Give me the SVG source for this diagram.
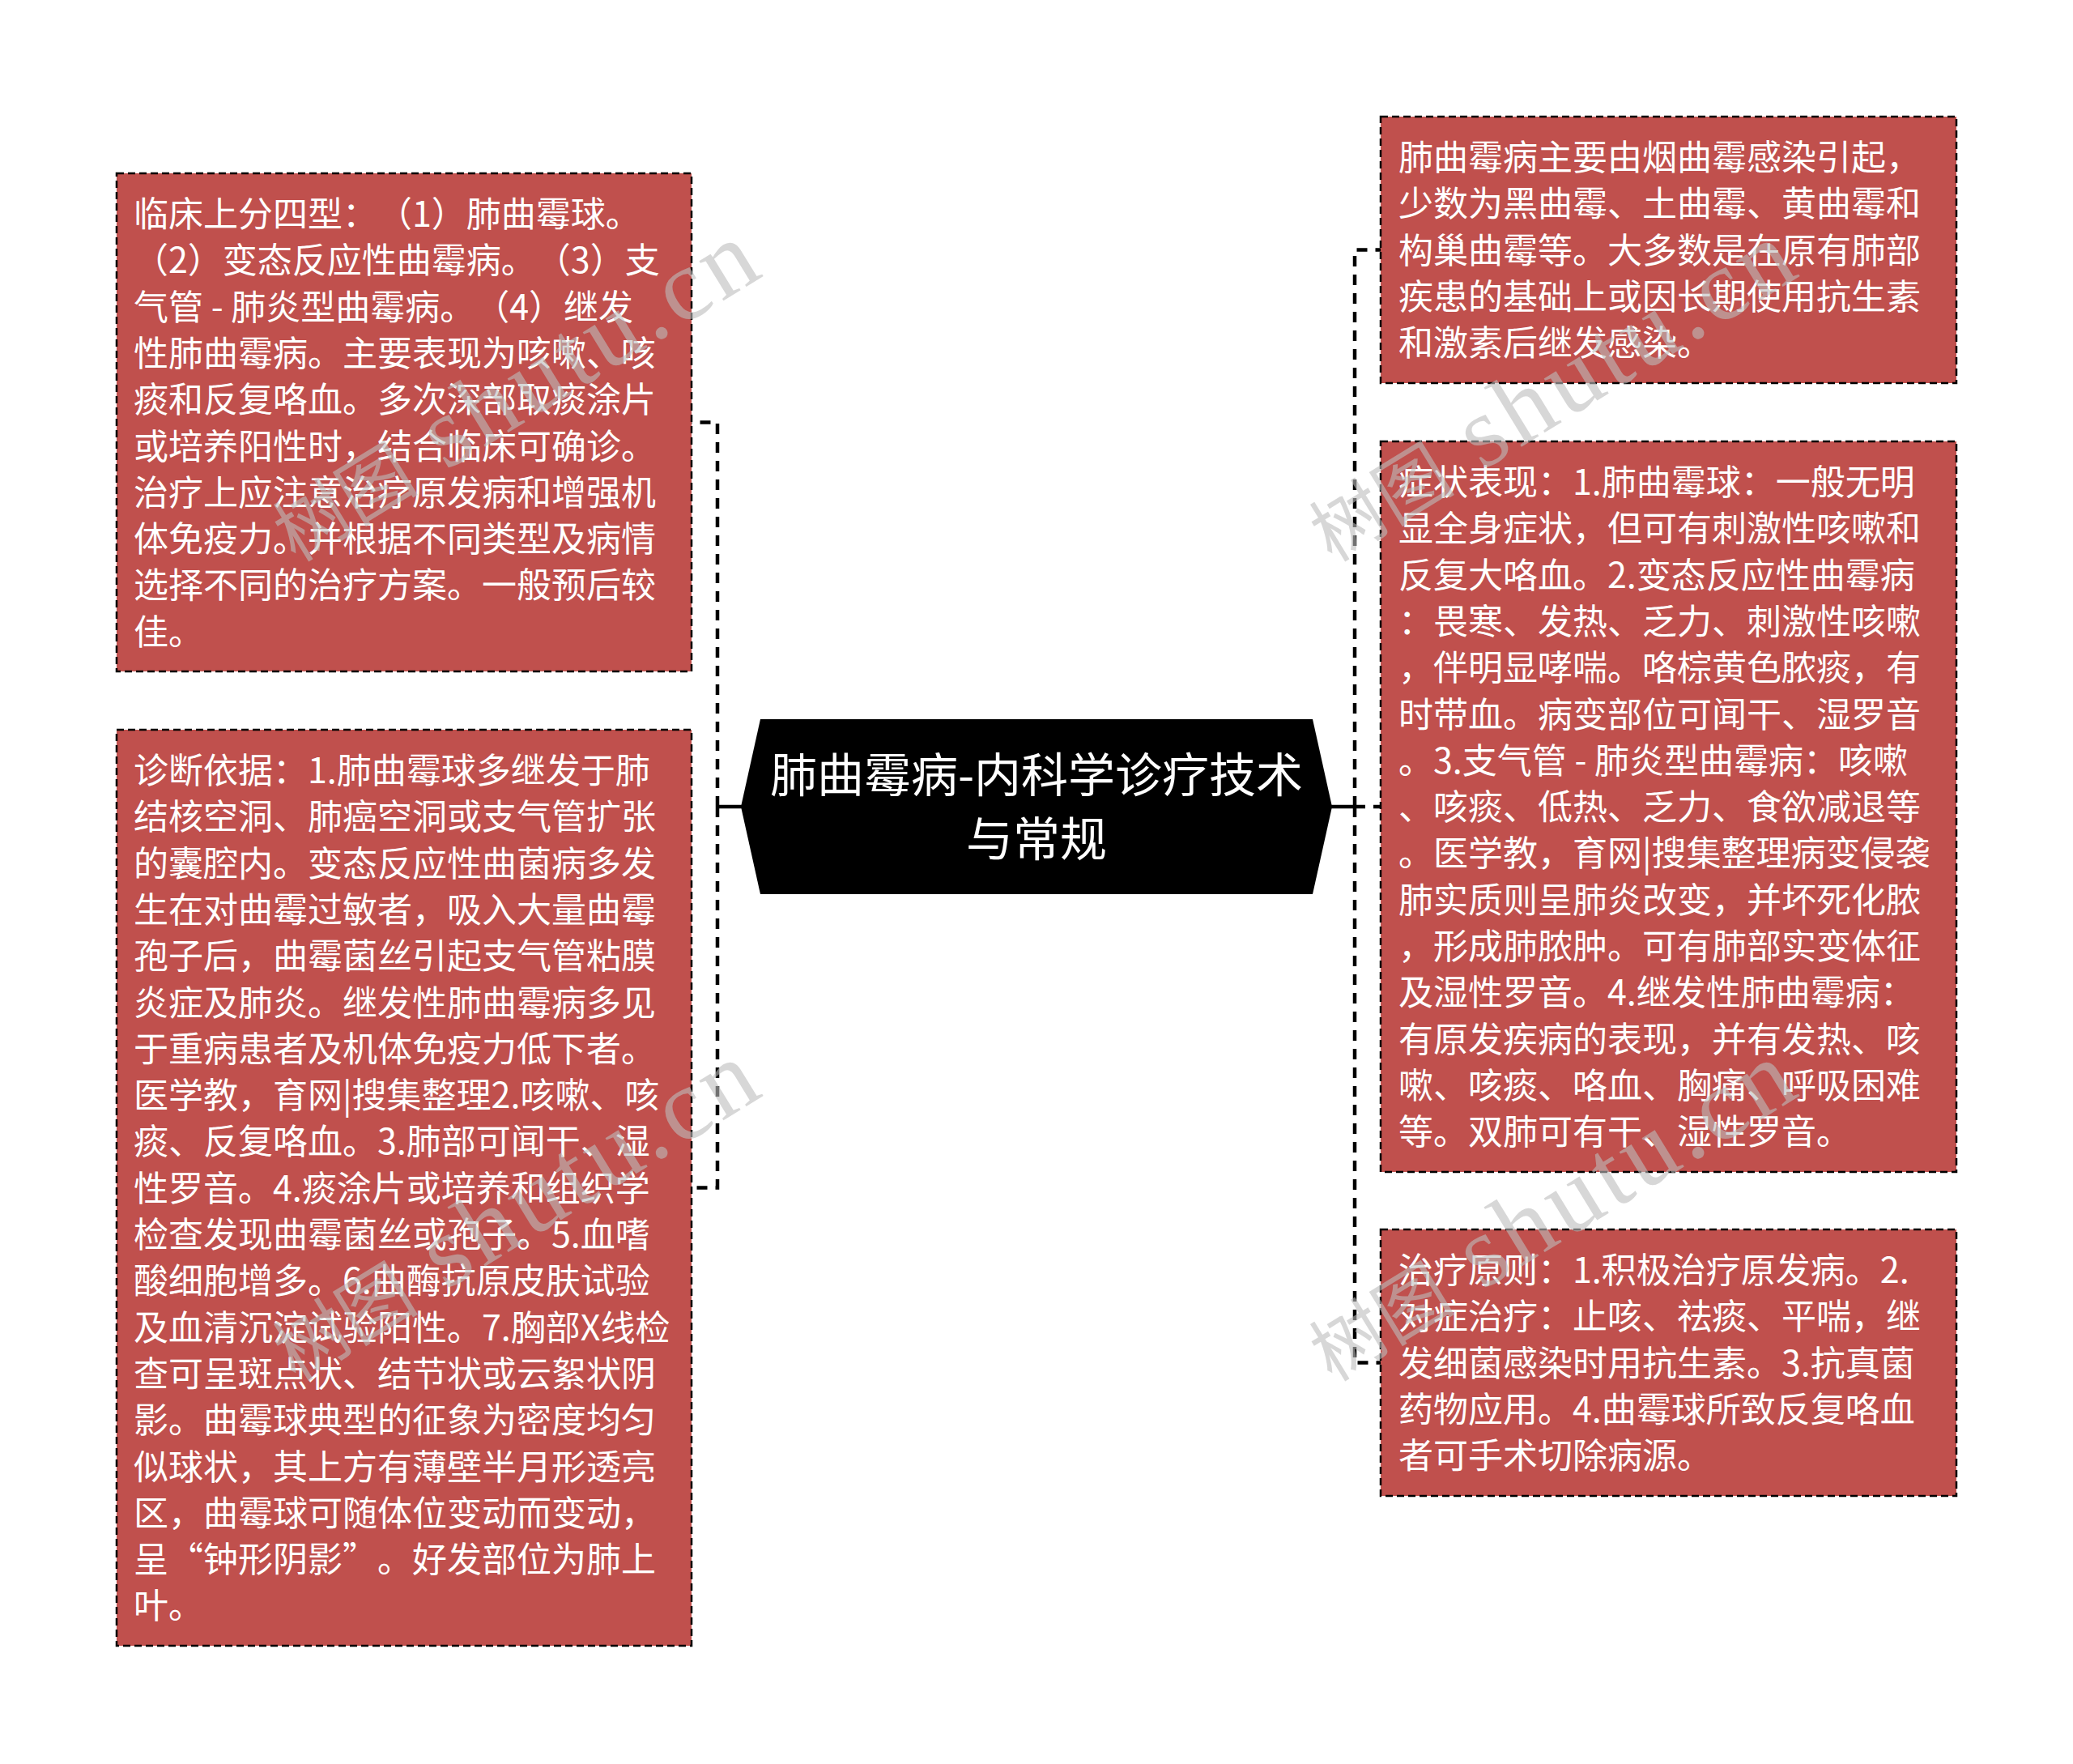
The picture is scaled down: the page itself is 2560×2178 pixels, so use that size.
<svg xmlns="http://www.w3.org/2000/svg" width="2560" height="2178" viewBox="0 0 2560 2178">
<style>
.box{fill:#C0504D;stroke:#000;stroke-width:2.5;stroke-dasharray:9 5}
.txt{font-family:"Noto Sans CJK SC","Noto Sans",sans-serif;font-size:43px;fill:#fff;text-spacing-trim:space-all}
.root-txt{font-family:"Noto Sans CJK SC","Noto Sans",sans-serif;font-size:58px;fill:#fff;text-anchor:middle}
.stub{fill:none;stroke:#000;stroke-width:4.5}
.dash{fill:none;stroke:#000;stroke-width:4.5;stroke-dasharray:13 10}
.wm{font-family:"Liberation Serif","Noto Sans CJK SC",serif;fill:#bdbdbd;fill-opacity:0.6}
</style>
<rect width="2560" height="2178" fill="#fff"/>
<g id="connectors">
<path class="stub" d="M916 996H886"/>
<path class="dash" d="M886 996V521.5H854"/>
<path class="dash" d="M886 996V1466.5H854"/>
<path class="stub" d="M1644 996H1673"/>
<path class="dash" d="M1673 996V308.5H1705"/>
<path class="dash" d="M1673 996H1705"/>
<path class="dash" d="M1673 996V1682.5H1705"/>
</g>
<g id="root">
<polygon points="915,996 939,888 1621,888 1645,996 1621,1104 939,1104" fill="#000"/>
<text class="root-txt" x="1280" y="978">肺曲霉病-内科学诊疗技术</text>
<text class="root-txt" x="1280" y="1057">与常规</text>
</g>
<g id="node-l1">
<rect class="box" x="144" y="214" width="710" height="615"/>
<text class="txt">
<tspan x="165" y="280">临床上分四型：（1）肺曲霉球。</tspan>
<tspan x="165" y="337.3">（2）变态反应性曲霉病。（3）支</tspan>
<tspan x="165" y="394.6">气管 - 肺炎型曲霉病。（4）继发</tspan>
<tspan x="165" y="451.9">性肺曲霉病。主要表现为咳嗽、咳</tspan>
<tspan x="165" y="509.2">痰和反复咯血。多次深部取痰涂片</tspan>
<tspan x="165" y="566.5">或培养阳性时，结合临床可确诊。</tspan>
<tspan x="165" y="623.8">治疗上应注意治疗原发病和增强机</tspan>
<tspan x="165" y="681.1">体免疫力。并根据不同类型及病情</tspan>
<tspan x="165" y="738.4">选择不同的治疗方案。一般预后较</tspan>
<tspan x="165" y="795.7">佳。</tspan>
</text>
</g>
<g id="node-l2">
<rect class="box" x="144" y="901" width="710" height="1131"/>
<text class="txt">
<tspan x="165" y="967">诊断依据：1.肺曲霉球多继发于肺</tspan>
<tspan x="165" y="1024.3">结核空洞、肺癌空洞或支气管扩张</tspan>
<tspan x="165" y="1081.6">的囊腔内。变态反应性曲菌病多发</tspan>
<tspan x="165" y="1138.9">生在对曲霉过敏者，吸入大量曲霉</tspan>
<tspan x="165" y="1196.2">孢子后，曲霉菌丝引起支气管粘膜</tspan>
<tspan x="165" y="1253.5">炎症及肺炎。继发性肺曲霉病多见</tspan>
<tspan x="165" y="1310.8">于重病患者及机体免疫力低下者。</tspan>
<tspan x="165" y="1368.1">医学教，育网|搜集整理2.咳嗽、咳</tspan>
<tspan x="165" y="1425.4">痰、反复咯血。3.肺部可闻干、湿</tspan>
<tspan x="165" y="1482.7">性罗音。4.痰涂片或培养和组织学</tspan>
<tspan x="165" y="1540">检查发现曲霉菌丝或孢子。5.血嗜</tspan>
<tspan x="165" y="1597.3">酸细胞增多。6.曲酶抗原皮肤试验</tspan>
<tspan x="165" y="1654.6">及血清沉淀试验阳性。7.胸部X线检</tspan>
<tspan x="165" y="1711.9">查可呈斑点状、结节状或云絮状阴</tspan>
<tspan x="165" y="1769.2">影。曲霉球典型的征象为密度均匀</tspan>
<tspan x="165" y="1826.5">似球状，其上方有薄壁半月形透亮</tspan>
<tspan x="165" y="1883.8">区，曲霉球可随体位变动而变动，</tspan>
<tspan x="165" y="1941.1">呈“钟形阴影”。好发部位为肺上</tspan>
<tspan x="165" y="1998.4">叶。</tspan>
</text>
</g>
<g id="node-r1">
<rect class="box" x="1705" y="144" width="711" height="329"/>
<text class="txt">
<tspan x="1727" y="210">肺曲霉病主要由烟曲霉感染引起，</tspan>
<tspan x="1727" y="267.3">少数为黑曲霉、土曲霉、黄曲霉和</tspan>
<tspan x="1727" y="324.6">构巢曲霉等。大多数是在原有肺部</tspan>
<tspan x="1727" y="381.9">疾患的基础上或因长期使用抗生素</tspan>
<tspan x="1727" y="439.2">和激素后继发感染。</tspan>
</text>
</g>
<g id="node-r2">
<rect class="box" x="1705" y="545" width="711" height="902"/>
<text class="txt">
<tspan x="1727" y="611">症状表现：1.肺曲霉球：一般无明</tspan>
<tspan x="1727" y="668.3">显全身症状，但可有刺激性咳嗽和</tspan>
<tspan x="1727" y="725.6">反复大咯血。2.变态反应性曲霉病</tspan>
<tspan x="1727" y="782.9">：畏寒、发热、乏力、刺激性咳嗽</tspan>
<tspan x="1727" y="840.2">，伴明显哮喘。咯棕黄色脓痰，有</tspan>
<tspan x="1727" y="897.5">时带血。病变部位可闻干、湿罗音</tspan>
<tspan x="1727" y="954.8">。3.支气管 - 肺炎型曲霉病：咳嗽</tspan>
<tspan x="1727" y="1012.1">、咳痰、低热、乏力、食欲减退等</tspan>
<tspan x="1727" y="1069.4">。医学教，育网|搜集整理病变侵袭</tspan>
<tspan x="1727" y="1126.7">肺实质则呈肺炎改变，并坏死化脓</tspan>
<tspan x="1727" y="1184">，形成肺脓肿。可有肺部实变体征</tspan>
<tspan x="1727" y="1241.3">及湿性罗音。4.继发性肺曲霉病：</tspan>
<tspan x="1727" y="1298.6">有原发疾病的表现，并有发热、咳</tspan>
<tspan x="1727" y="1355.9">嗽、咳痰、咯血、胸痛、呼吸困难</tspan>
<tspan x="1727" y="1413.2">等。双肺可有干、湿性罗音。</tspan>
</text>
</g>
<g id="node-r3">
<rect class="box" x="1705" y="1518" width="711" height="329"/>
<text class="txt">
<tspan x="1727" y="1584">治疗原则：1.积极治疗原发病。2.</tspan>
<tspan x="1727" y="1641.3">对症治疗：止咳、祛痰、平喘，继</tspan>
<tspan x="1727" y="1698.6">发细菌感染时用抗生素。3.抗真菌</tspan>
<tspan x="1727" y="1755.9">药物应用。4.曲霉球所致反复咯血</tspan>
<tspan x="1727" y="1813.2">者可手术切除病源。</tspan>
</text>
</g>
<g id="watermark">
<text class="wm" transform="translate(365 695) rotate(-31.5)"><tspan font-size="90">树图</tspan><tspan font-size="125" letter-spacing="6"> shutu.cn</tspan></text>
<text class="wm" transform="translate(1645 695) rotate(-31.5)"><tspan font-size="90">树图</tspan><tspan font-size="125" letter-spacing="6"> shutu.cn</tspan></text>
<text class="wm" transform="translate(365 1707) rotate(-31.5)"><tspan font-size="90">树图</tspan><tspan font-size="125" letter-spacing="6"> shutu.cn</tspan></text>
<text class="wm" transform="translate(1645 1707) rotate(-31.5)"><tspan font-size="90">树图</tspan><tspan font-size="125" letter-spacing="6"> shutu.cn</tspan></text>
</g>
</svg>
